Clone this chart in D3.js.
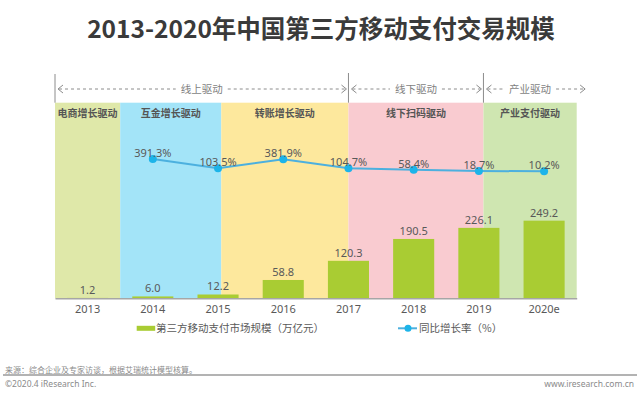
<!DOCTYPE html>
<html>
<head>
<meta charset="utf-8">
<script src="https://cdn.jsdelivr.net/npm/d3@7"></script>
<style>
  body { margin: 0; background: #fff; }
  text { font-family: "Noto Sans CJK SC", "Noto Sans", sans-serif; }
</style>
</head>
<body>
<div class="fig"></div>
<script>
// data
var years = ["2013", "2014", "2015", "2016", "2017", "2018", "2019", "2020e"];
var scale = [1.2, 6.0, 12.2, 58.8, 120.3, 190.5, 226.1, 249.2];   // 万亿元
var growthYears = ["2014", "2015", "2016", "2017", "2018", "2019", "2020e"];
var growth = [391.3, 103.5, 381.9, 104.7, 58.4, 18.7, 10.2];       // %
// background phases, from / to in category units
var phaseNames = ["电商增长驱动", "互金增长驱动", "转账增长驱动", "线下扫码驱动", "产业支付驱动"];
var phaseFrom = [0, 1, 2.55, 4.5, 6.57];
var phaseTo = [1, 2.55, 4.5, 6.57, 8];
var phaseColors = ["#dfe8a9", "#a3e4f8", "#fde89d", "#f9cbd0", "#cfe6b1"];
// header groups
var headNames = ["线上驱动", "线下驱动", "产业驱动"];
var headFrom = [0, 4.5, 6.57];
var headTo = [4.5, 6.57, 8.16];

var W = 640, H = 396;
var left = 55, right = 576.7, base = 298.3;

var svg = d3.select(".fig").append("svg")
    .attr("width", W)
    .attr("height", H);

svg.append("text")
    .attr("x", 321).attr("y", 37.5)
    .attr("text-anchor", "middle")
    .style("font-size", "24.5px").style("font-weight", "bold")
    .attr("fill", "#3a3a3a")
    .text("2013-2020年中国第三方移动支付交易规模");

var x = d3.scaleBand()
    .domain(years)
    .range([left, right])
    .paddingInner(0.37)
    .paddingOuter(0.185);
var xi = d3.scaleLinear().domain([0, years.length]).range([left, right]);
var y = d3.scaleLinear().domain([0, 600]).range([base, 111.4]);
var y2 = d3.scaleLinear().domain([0, 400]).range([171.6, 158.7]);
var cx = function(d) { return x(d) + x.bandwidth() / 2; };

// phase backgrounds
var bandTop = 102.7;
svg.selectAll("rect.phase")
    .data(phaseNames)
    .enter().append("rect")
    .attr("class", "phase")
    .attr("x", function(d, i) { return xi(phaseFrom[i]); })
    .attr("y", bandTop)
    .attr("width", function(d, i) { return xi(phaseTo[i]) - xi(phaseFrom[i]); })
    .attr("height", base - bandTop)
    .attr("fill", function(d, i) { return phaseColors[i]; });

svg.selectAll("text.phase")
    .data(phaseNames)
    .enter().append("text")
    .attr("class", "phase")
    .attr("x", function(d, i) { return (xi(phaseFrom[i]) + xi(phaseTo[i])) / 2; })
    .attr("y", 117)
    .attr("text-anchor", "middle")
    .style("font-size", "10px").style("font-weight", "bold")
    .attr("fill", "#555")
    .text(function(d) { return d; });

// header with dashed arrows
var hy = 89;
headNames.forEach(function(name, i) {
  var a = xi(headFrom[i]), b = xi(headTo[i]);
  var mid = (a + xi(Math.min(headTo[i], years.length))) / 2;
  var tw = 44;
  svg.append("line")
      .attr("x1", a).attr("x2", a)
      .attr("y1", i == 0 ? 74 : 73).attr("y2", bandTop)
      .attr("stroke", "#8c8c8c").attr("stroke-width", 1);
  svg.append("line")
      .attr("x1", a + 4).attr("x2", mid - tw / 2 - 4)
      .attr("y1", hy).attr("y2", hy)
      .attr("stroke", "#8c8c8c").attr("stroke-dasharray", "3,3");
  svg.append("line")
      .attr("x1", mid + tw / 2 + 4).attr("x2", b - 3)
      .attr("y1", hy).attr("y2", hy)
      .attr("stroke", "#8c8c8c").attr("stroke-dasharray", "3,3");
  svg.append("path")
      .attr("d", "M" + (a + 8) + "," + (hy - 4) + "L" + (a + 3) + "," + hy + "L" + (a + 8) + "," + (hy + 4))
      .attr("fill", "none").attr("stroke", "#8c8c8c");
  svg.append("path")
      .attr("d", "M" + (b - 7) + "," + (hy - 4) + "L" + (b - 2) + "," + hy + "L" + (b - 7) + "," + (hy + 4))
      .attr("fill", "none").attr("stroke", "#8c8c8c");
  svg.append("text")
      .attr("x", mid).attr("y", hy + 3.5)
      .attr("text-anchor", "middle")
      .style("font-size", "10.5px")
      .attr("fill", "#7f7f7f")
      .text(name);
});

// bars
svg.selectAll("rect.bar")
    .data(years)
    .enter().append("rect")
    .attr("class", "bar")
    .attr("x", function(d) { return x(d); })
    .attr("y", function(d, i) { return y(scale[i]); })
    .attr("width", x.bandwidth())
    .attr("height", function(d, i) { return base - y(scale[i]); })
    .attr("fill", "#a9cc33");

svg.selectAll("text.bar")
    .data(years)
    .enter().append("text")
    .attr("class", "bar")
    .attr("x", cx)
    .attr("y", function(d, i) { return y(scale[i]) - 4; })
    .attr("text-anchor", "middle")
    .style("font-family", "Noto Sans").style("font-size", "11px")
    .attr("fill", "#595959")
    .text(function(d, i) { return scale[i].toFixed(1); });

// axis
var ax = svg.append("g")
    .attr("transform", "translate(0," + base + ")")
    .call(d3.axisBottom(x).tickSize(0).tickPadding(7));
ax.select(".domain").attr("stroke", "#a6a6a6").attr("stroke-width", 1.5);
ax.selectAll("text")
    .style("font-family", "Noto Sans").style("font-size", "11px")
    .attr("fill", "#595959");

// growth line
var line = d3.line()
    .x(function(d) { return cx(d); })
    .y(function(d, i) { return y2(growth[i]); });

svg.append("path")
    .datum(growthYears)
    .attr("d", line)
    .attr("fill", "none")
    .attr("stroke", "#4cb0df")
    .attr("stroke-width", 2);

svg.selectAll("circle.pt")
    .data(growthYears)
    .enter().append("circle")
    .attr("class", "pt")
    .attr("cx", cx)
    .attr("cy", function(d, i) { return y2(growth[i]); })
    .attr("r", 4)
    .attr("fill", "#1db4e9");

svg.selectAll("text.pt")
    .data(growthYears)
    .enter().append("text")
    .attr("class", "pt")
    .attr("x", cx)
    .attr("y", function(d, i) { return y2(growth[i]) - 2; })
    .attr("text-anchor", "middle")
    .style("font-family", "Noto Sans").style("font-size", "11px")
    .attr("fill", "#595959")
    .text(function(d, i) { return growth[i].toFixed(1) + "%"; });

// legend
var ly = 328.3;
svg.append("rect")
    .attr("x", 136.7).attr("y", ly - 2.5)
    .attr("width", 18.5).attr("height", 5)
    .attr("fill", "#a9cc33");
svg.append("text")
    .attr("x", 156).attr("y", ly + 3.8)
    .style("font-size", "10.5px")
    .attr("fill", "#595959")
    .text("第三方移动支付市场规模（万亿元）");
svg.append("line")
    .attr("x1", 398).attr("x2", 417)
    .attr("y1", ly).attr("y2", ly)
    .attr("stroke", "#4cb0df").attr("stroke-width", 2);
svg.append("circle")
    .attr("cx", 408).attr("cy", ly).attr("r", 3.5)
    .attr("fill", "#1db4e9");
svg.append("text")
    .attr("x", 419).attr("y", ly + 3.8)
    .style("font-size", "10.5px")
    .attr("fill", "#595959")
    .text("同比增长率（%）");

// footer
svg.append("text")
    .attr("x", 5).attr("y", 373)
    .style("font-size", "8px")
    .attr("fill", "#8a8a8a")
    .text("来源：综合企业及专家访谈，根据艾瑞统计模型核算。");
svg.append("line")
    .attr("x1", 3).attr("x2", 637)
    .attr("y1", 375).attr("y2", 375)
    .attr("stroke", "#9a9a9a").attr("stroke-width", 1.3);
svg.append("text")
    .attr("x", 5).attr("y", 387)
    .style("font-family", "Noto Sans").style("font-size", "8.5px")
    .attr("fill", "#8a8a8a")
    .text("©2020.4 iResearch Inc.");
svg.append("text")
    .attr("x", 634).attr("y", 387)
    .attr("text-anchor", "end")
    .style("font-family", "Noto Sans").style("font-size", "8.5px")
    .attr("fill", "#8a8a8a")
    .text("www.iresearch.com.cn");
</script>
</body>
</html>
